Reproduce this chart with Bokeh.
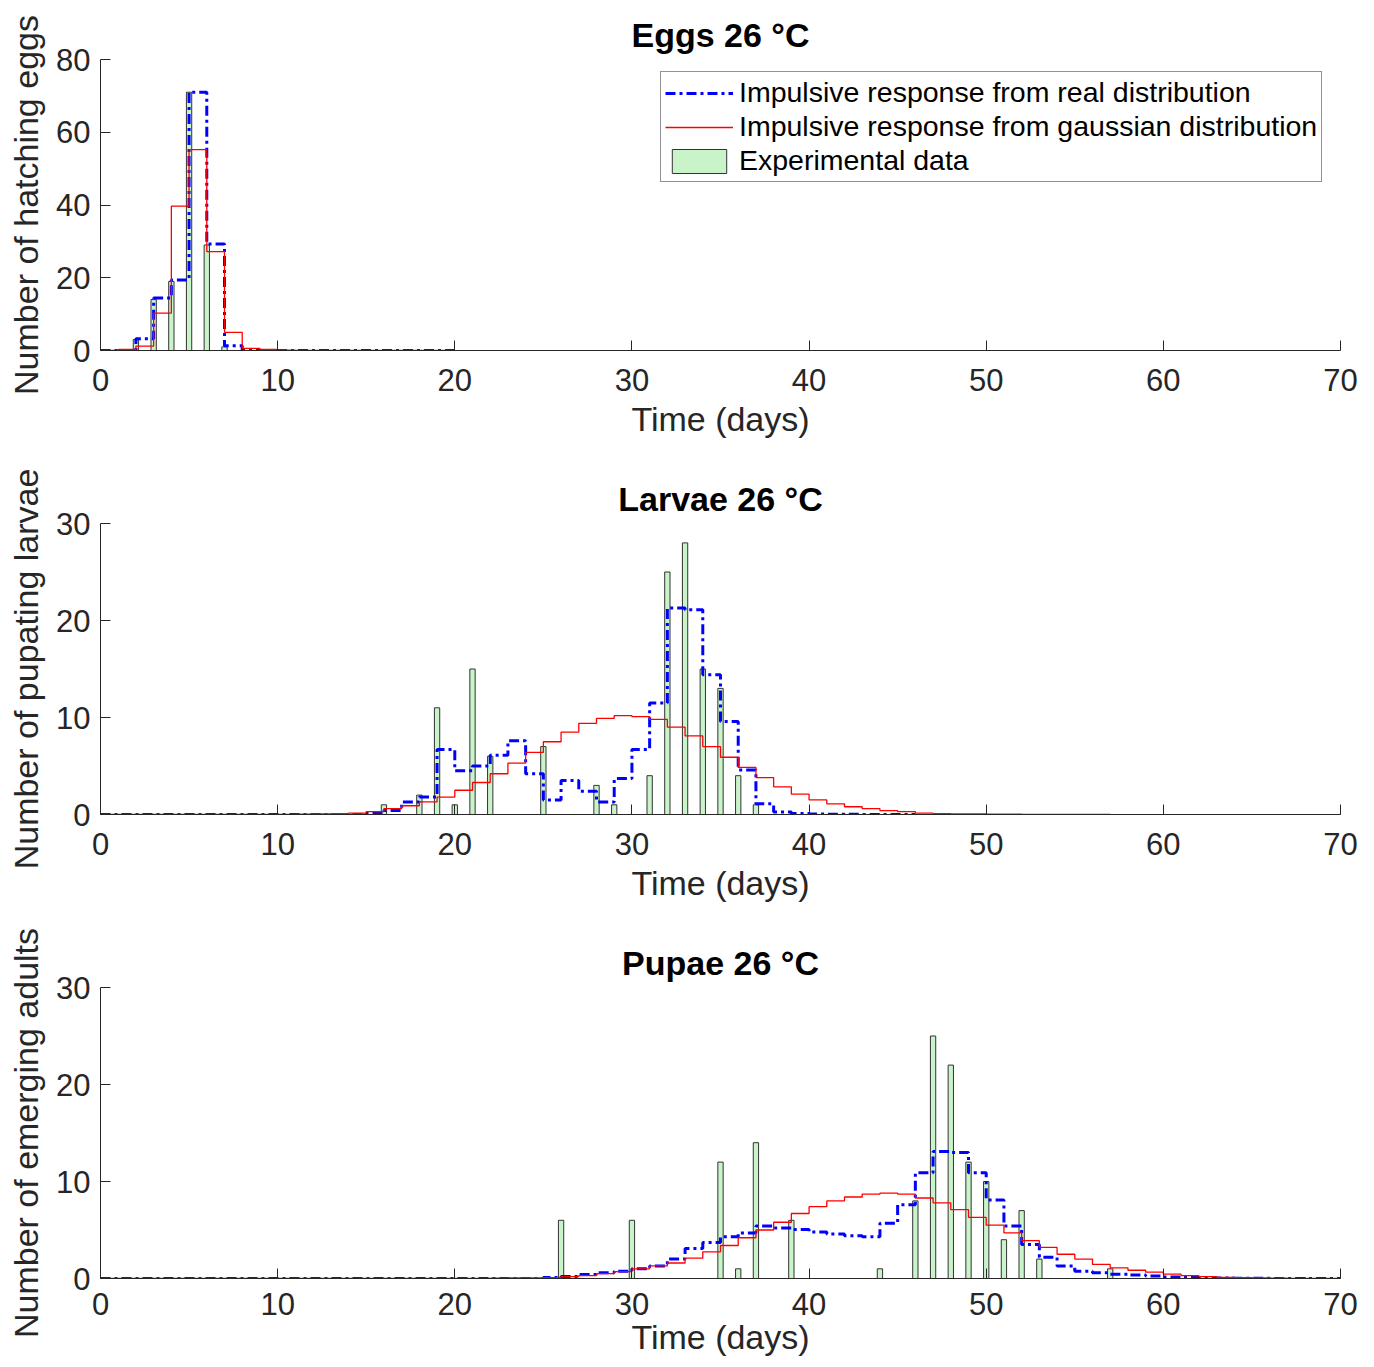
import numpy as np
from bokeh.plotting import figure
from bokeh.layouts import column
from bokeh.models import Range1d, Legend, LegendItem, FixedTicker
from bokeh.embed import file_html
from bokeh.resources import INLINE

# ---------------- data ----------------
x_ticks = [0, 10, 20, 30, 40, 50, 60, 70]

# Eggs 26 °C (days 0..20)
eggs_data = [0, 0, 3, 14, 19, 71, 29, 1, 0, 0, 0, 0, 0, 0, 0, 0, 0, 0, 0, 0, 0]
eggs_real = [0, 0, 3.2, 14.4, 19.4, 71, 29.3, 1.3, 0, 0, 0, 0, 0, 0, 0, 0, 0, 0, 0, 0, 0]
eggs_gauss = [0, 0.3, 1.2, 10.3, 39.7, 55.2, 27.2, 5.0, 0.6, 0.3, 0.1, 0, 0, 0, 0, 0, 0, 0, 0, 0, 0]
eggs_yticks = [0, 20, 40, 60, 80]

# Larvae 26 °C (days 0..70)
larvae_data = [0, 0, 0, 0, 0, 0, 0, 0, 0, 0,
               0, 0, 0, 0, 0, 0, 1, 0, 2, 11,
               1, 15, 6, 0, 0, 7, 0, 0, 3, 1,
               0, 4, 25, 28, 15, 13, 4, 1, 0, 0,
               0, 0, 0, 0, 0, 0, 0, 0, 0, 0,
               0, 0, 0, 0, 0, 0, 0, 0, 0, 0,
               0, 0, 0, 0, 0, 0, 0, 0, 0, 0,
               0]
larvae_real = [0, 0, 0, 0, 0, 0, 0, 0, 0, 0,
               0, 0, 0, 0, 0, 0.1, 0.4, 1.3, 1.8, 6.7,
               4.5, 5.0, 6.1, 7.6, 4.2, 1.5, 3.5, 2.4, 1.3, 3.7,
               6.7, 11.5, 21.3, 21.1, 14.4, 9.6, 4.6, 1.1, 0.25, 0.1,
               0.05, 0.03, 0.02, 0.01, 0, 0, 0]
larvae_gauss = [0, 0, 0, 0, 0, 0, 0, 0, 0, 0,
                0.02, 0.03, 0.05, 0.08, 0.15, 0.3, 0.6, 0.9, 1.3, 1.8,
                2.5, 3.3, 4.2, 5.3, 6.4, 7.5, 8.5, 9.4, 9.9, 10.2,
                10.1, 9.8, 9.0, 8.1, 7.0, 5.9, 4.85, 3.8, 2.85, 2.1,
                1.5, 1.1, 0.8, 0.6, 0.4, 0.3, 0.15, 0.1, 0.07, 0.05,
                0.04, 0.03, 0.02, 0.02, 0.01, 0.01, 0.01, 0]
larvae_yticks = [0, 10, 20, 30]

# Pupae 26 °C (days 0..70)
pupae_data = [0, 0, 0, 0, 0, 0, 0, 0, 0, 0,
              0, 0, 0, 0, 0, 0, 0, 0, 0, 0,
              0, 0, 0, 0, 0, 0, 6, 0, 0, 0,
              6, 0, 0, 0, 0, 12, 1, 14, 0, 6,
              0, 0, 0, 0, 1, 0, 8, 25, 22, 12,
              10, 4, 7, 2, 0, 0, 0, 1, 0, 0,
              0, 0, 0, 0, 0, 0, 0, 0, 0, 0,
              0]
pupae_real = [0, 0, 0, 0, 0, 0, 0, 0, 0, 0,
              0, 0, 0, 0, 0, 0, 0, 0, 0, 0,
              0, 0, 0, 0, 0, 0.1, 0.2, 0.4, 0.6, 0.75,
              1.0, 1.3, 2.0, 3.1, 3.7, 4.3, 4.7, 5.4, 5.2, 5.05,
              4.8, 4.6, 4.4, 4.3, 5.7, 7.6, 10.9, 13.1, 13.0, 10.9,
              8.1, 5.4, 3.5, 2.2, 1.3, 0.75, 0.6, 0.45, 0.35, 0.25,
              0.15, 0.1, 0.07, 0.05, 0.03, 0.02, 0.01, 0.01, 0, 0,
              0]
pupae_gauss = [0, 0, 0, 0, 0, 0, 0, 0, 0, 0,
               0, 0, 0, 0, 0, 0, 0, 0, 0, 0,
               0, 0.02, 0.03, 0.05, 0.07, 0.1, 0.2, 0.3, 0.5, 0.7,
               1.0, 1.3, 1.6, 2.1, 2.75, 3.4, 4.2, 5.0, 5.8, 6.7,
               7.4, 8.0, 8.4, 8.7, 8.8, 8.7, 8.3, 7.8, 7.1, 6.3,
               5.5, 4.7, 3.9, 3.2, 2.5, 2.0, 1.45, 1.1, 0.85, 0.65,
               0.45, 0.3, 0.2, 0.12, 0.08, 0.05, 0.03, 0.02, 0.01, 0.01,
               0]
pupae_yticks = [0, 10, 20, 30]

titles = ["Eggs 26 °C", "Larvae 26 °C", "Pupae 26 °C"]
ylabels = ["Number of hatching eggs", "Number of pupating larvae", "Number of emerging adults"]
xlabel = "Time (days)"
legend_labels = ["Impulsive response from real distribution",
                 "Impulsive response from gaussian distribution",
                 "Experimental data"]

# ---------------- style ----------------
FONT = "Liberation Sans"
AX = "#262626"
BAR_FILL = "#c9f3c9"
BAR_LINE = "#333333"
BLUE = "#0000ff"
RED = "#ff0000"
BAR_W = 0.3


def panel(title, ylabel, ymax, yticks, data, real, gauss, top, bottom, lab_standoff=6, tick_standoff=18):
    p = figure(frame_width=1240, frame_height=291,
               x_range=Range1d(0, 70), y_range=Range1d(0, ymax),
               output_backend="svg", toolbar_location=None,
               min_border_left=100, min_border_right=18,
               min_border_top=top, min_border_bottom=bottom)
    p.outline_line_color = None
    p.xgrid.visible = False
    p.ygrid.visible = False
    p.background_fill_color = "white"

    p.title.text = title
    p.title.align = "center"
    p.title.text_font = FONT
    p.title.text_font_size = "34px"
    p.title.text_font_style = "bold"
    p.title.text_color = "black"
    p.title.standoff = 11

    for ax, ticks in ((p.xaxis[0], x_ticks), (p.yaxis[0], yticks)):
        ax.ticker = FixedTicker(ticks=ticks)
        ax.axis_line_color = AX
        ax.axis_line_width = 1
        ax.major_tick_line_color = AX
        ax.major_tick_in = 10
        ax.major_tick_out = 0
        ax.minor_tick_line_color = None
        ax.major_label_text_font = FONT
        ax.major_label_text_font_size = "31px"
        ax.major_label_text_color = AX
        ax.axis_label_text_font = FONT
        ax.axis_label_text_font_size = "34px"
        ax.axis_label_text_font_style = "normal"
        ax.axis_label_text_color = AX
    p.xaxis.axis_label = xlabel
    p.yaxis.axis_label = ylabel
    p.xaxis.major_label_standoff = tick_standoff
    p.yaxis.major_label_standoff = 10
    p.xaxis.axis_label_standoff = lab_standoff
    p.yaxis.axis_label_standoff = 8

    bdays = np.arange(len(data))
    bars = p.vbar(x=bdays, top=data, bottom=0, width=BAR_W,
                  fill_color=BAR_FILL, line_color=BAR_LINE, line_width=1)
    p.segment(x0=bdays - BAR_W / 2, x1=bdays + BAR_W / 2, y0=0, y1=0,
              line_color=BAR_LINE, line_width=1.2)
    r_real = p.step(x=np.arange(len(real)), y=real, mode="after",
                    line_color=BLUE, line_width=3, line_dash="10 4 3 4")
    r_gauss = p.step(x=np.arange(len(gauss)), y=gauss, mode="after",
                     line_color=RED, line_width=1.3)
    return p, r_real, r_gauss, bars


p1, a1, b1, c1 = panel(titles[0], ylabels[0], 80, eggs_yticks, eggs_data, eggs_real, eggs_gauss, 59, 100)
p2, a2, b2, c2 = panel(titles[1], ylabels[1], 30, larvae_yticks, larvae_data, larvae_real, larvae_gauss, 73, 100)
p3, a3, b3, c3 = panel(titles[2], ylabels[2], 30, pupae_yticks, pupae_data, pupae_real, pupae_gauss, 73, 86,
                       lab_standoff=0, tick_standoff=14)

legend = Legend(items=[LegendItem(label=legend_labels[0], renderers=[a1]),
                       LegendItem(label=legend_labels[1], renderers=[b1]),
                       LegendItem(label=legend_labels[2], renderers=[c1])],
                location=(560, 168))
legend.label_text_font = FONT
legend.label_text_font_size = "28.5px"
legend.label_text_color = "black"
legend.glyph_width = 68
legend.glyph_height = 30
legend.label_standoff = 6
legend.padding = 4
legend.spacing = 1
legend.margin = 0
legend.border_line_color = AX
legend.border_line_width = 1
legend.background_fill_color = "white"
legend.background_fill_alpha = 1
p1.add_layout(legend)

layout = column(p1, p2, p3, spacing=0)
open("out.html", "w").write(file_html(layout, INLINE))
